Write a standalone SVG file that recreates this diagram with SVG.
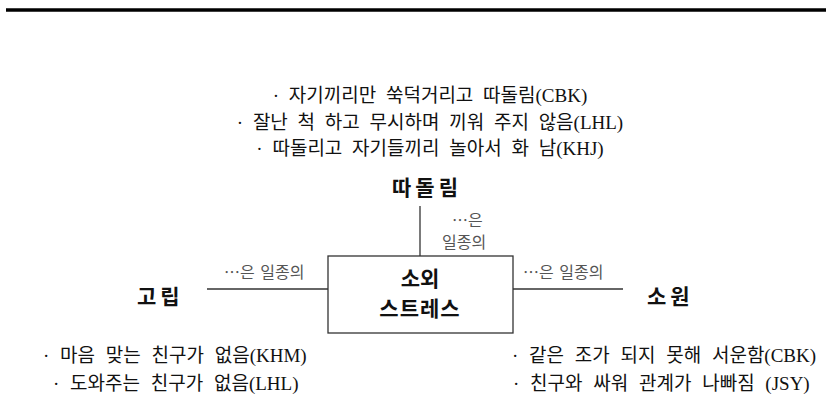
<svg xmlns="http://www.w3.org/2000/svg" width="826" height="409" viewBox="0 0 826 409">
<style>
.t{font-family:"Liberation Serif","Noto Sans CJK KR",serif;font-size:19px;word-spacing:5px;fill:#111}
.b{word-spacing:6px}
.h{font-family:"Noto Sans CJK KR","Liberation Sans",sans-serif;font-size:21px;font-weight:bold;fill:#111}
.l{font-family:"Noto Sans CJK KR","Liberation Sans",sans-serif;font-size:16px;word-spacing:2px;fill:#555}
.ln{stroke:#333;stroke-width:1.3;fill:none}
</style>
<rect width="826" height="409" fill="#fff"/>
<line x1="6" y1="10" x2="826" y2="10" stroke="#000" stroke-width="3.5"/>
<g id="top-notes">
<text class="t" x="430" y="102" text-anchor="middle">· 자기끼리만 쑥덕거리고 따돌림(CBK)</text>
<text class="t" x="430" y="129" text-anchor="middle">· 잘난 척 하고 무시하며 끼워 주지 않음(LHL)</text>
<text class="t" x="430" y="155" text-anchor="middle">· 따돌리고 자기들끼리 놀아서 화 남(KHJ)</text>
</g>
<g id="connectors">
<line class="ln" x1="420" y1="206" x2="420" y2="256"/>
<line class="ln" x1="207" y1="289" x2="328" y2="289"/>
<line class="ln" x1="513" y1="289" x2="623" y2="289"/>
<text class="l" x="452" y="226">…은</text>
<text class="l" x="442" y="248">일종의</text>
<text class="l" x="224" y="278">…은 일종의</text>
<text class="l" x="523" y="278">…은 일종의</text>
</g>
<g id="center">
<rect x="328" y="256" width="185" height="77" fill="#fff" stroke="#333" stroke-width="1.3"/>
<text class="h" x="420" y="286" text-anchor="middle">소외</text>
<text class="h" x="420" y="316" text-anchor="middle" letter-spacing="1">스트레스</text>
</g>
<g id="ttadolim">
<text class="h" x="392" y="195" letter-spacing="4">따돌림</text>
</g>
<g id="golip">
<text class="h" x="137" y="304" letter-spacing="4">고립</text>
</g>
<g id="sowon">
<text class="h" x="647" y="304" letter-spacing="4">소원</text>
</g>
<g id="bottom-left-notes">
<text class="t b" x="43" y="362">· 마음 맞는 친구가 없음(KHM)</text>
<text class="t b" x="53" y="390">· 도와주는 친구가 없음(LHL)</text>
</g>
<g id="bottom-right-notes">
<text class="t b" x="512" y="362">· 같은 조가 되지 못해 서운함(CBK)</text>
<text class="t b" x="513" y="390">· 친구와 싸워 관계가 나빠짐 (JSY)</text>
</g>
</svg>
